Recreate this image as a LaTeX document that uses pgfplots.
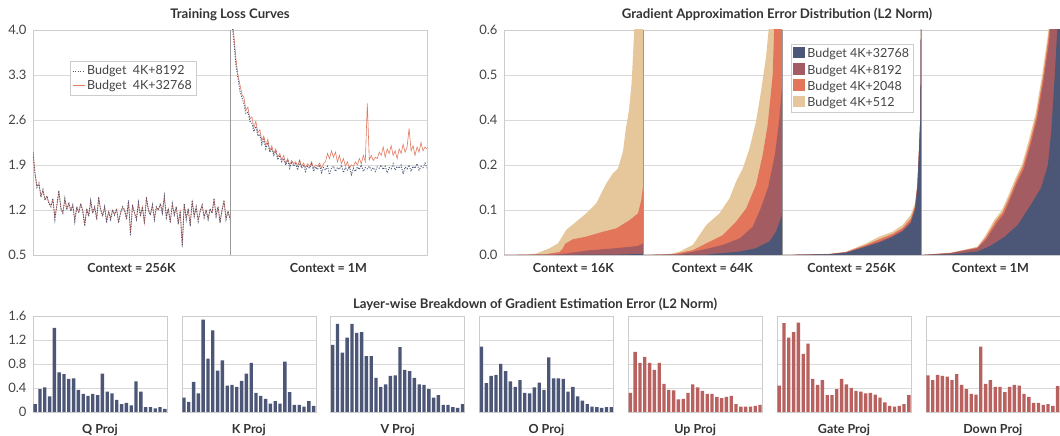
\documentclass[border=0pt]{standalone}
\usepackage{pgfplots}
\pgfplotsset{compat=1.18}
\usepackage{pgfplotstable}
\usepackage{fontspec}
\setmainfont{Lato}

\definecolor{navy}{HTML}{4C5677}
\definecolor{mauve}{HTML}{A35D62}
\definecolor{orng}{HTML}{E2755A}
\definecolor{tanc}{HTML}{E6C79B}
\definecolor{redbar}{HTML}{B8615F}
\definecolor{lossor}{HTML}{E27A60}
\definecolor{gridc}{HTML}{D9D9D9}
\definecolor{framec}{HTML}{CCCCCC}
\definecolor{sepc}{HTML}{9A9A9A}
\definecolor{txtc}{HTML}{333333}
\definecolor{tickc}{HTML}{444444}

\pgfplotstableread{
x l8 l32 r8 r32
0 2.10 2.11 4.60 4.70
1 1.75 1.78 4.10 4.20
2 1.55 1.57 3.80 3.90
3 1.62 1.60 3.45 3.55
4 1.40 1.42 3.25 3.30
5 1.52 1.50 3.05 3.15
6 1.35 1.37 2.95 3.00
7 1.42 1.40 2.85 2.95
8 1.30 1.31 2.70 2.75
9 1.25 1.27 2.72 2.80
10 1.38 1.36 2.58 2.62
11 1.05 1.08 2.55 2.65
12 1.28 1.27 2.42 2.48
13 1.50 1.48 2.50 2.58
14 1.22 1.24 2.35 2.40
15 1.15 1.16 2.38 2.45
16 1.38 1.36 2.22 2.28
17 1.20 1.22 2.30 2.35
18 1.32 1.30 2.15 2.20
19 1.18 1.20 2.25 2.30
20 1.28 1.27 2.10 2.12
21 1.02 1.05 2.15 2.20
22 1.25 1.24 2.05 2.08
23 1.15 1.17 2.12 2.15
24 1.30 1.29 1.98 2.02
25 1.18 1.19 2.05 2.08
26 0.95 0.98 1.95 1.98
27 1.22 1.21 2.00 2.05
28 1.10 1.12 1.90 1.92
29 1.35 1.33 1.98 2.00
30 1.15 1.16 1.85 1.90
31 1.25 1.24 1.95 1.97
32 1.05 1.07 1.88 1.92
33 1.40 1.38 1.92 1.95
34 1.20 1.21 1.82 1.88
35 1.10 1.12 1.95 1.98
36 1.25 1.24 1.85 1.88
37 1.00 1.03 1.90 1.93
38 1.18 1.18 1.80 1.86
39 1.05 1.07 1.88 1.92
40 1.20 1.20 1.85 1.88
41 1.12 1.13 1.92 1.95
42 1.22 1.21 1.80 1.85
43 1.00 1.02 1.87 1.90
44 1.15 1.16 1.83 1.88
45 1.25 1.24 1.90 1.93
46 1.20 1.20 1.78 1.85
47 1.05 1.07 1.86 1.92
48 1.35 1.33 1.82 1.95
49 0.80 0.84 1.88 2.08
50 1.28 1.27 1.75 2.00
51 1.15 1.16 1.85 2.12
52 1.05 1.07 1.88 2.02
53 1.32 1.30 1.80 2.10
54 1.10 1.11 1.86 1.95
55 1.25 1.25 1.83 2.05
56 0.98 1.00 1.90 1.92
57 1.40 1.38 1.78 2.00
58 1.20 1.20 1.86 1.88
59 1.12 1.13 1.82 1.95
60 1.28 1.27 1.88 1.85
61 1.05 1.07 1.75 1.90
62 1.25 1.24 1.85 1.88
63 1.20 1.20 1.80 1.95
64 1.30 1.29 1.87 1.90
65 1.15 1.16 1.83 2.00
66 1.42 1.40 1.90 1.92
67 1.08 1.10 1.80 2.05
68 1.22 1.22 1.86 1.95
69 1.00 1.02 1.84 2.86
70 1.30 1.29 1.88 1.98
71 1.12 1.13 1.82 2.05
72 1.25 1.24 1.86 1.97
73 0.98 1.00 1.80 2.02
74 1.18 1.18 1.87 2.00
75 0.62 0.66 1.85 2.10
76 1.30 1.29 1.90 2.05
77 1.05 1.07 1.83 2.18
78 1.22 1.21 1.88 2.02
79 0.95 0.98 1.78 2.15
80 1.35 1.33 1.86 2.08
81 1.10 1.11 1.84 2.20
82 1.25 1.24 1.92 2.05
83 1.02 1.04 1.82 2.12
84 1.18 1.18 1.88 2.00
85 1.28 1.27 1.85 2.15
86 1.08 1.10 1.90 2.08
87 1.20 1.20 1.76 2.22
88 1.05 1.07 1.87 2.10
89 1.22 1.21 1.84 2.18
90 1.15 1.16 1.90 2.47
91 1.38 1.36 1.80 2.12
92 1.10 1.11 1.88 2.20
93 1.25 1.24 1.85 2.05
94 1.00 1.02 1.92 2.18
95 1.20 1.20 1.82 2.10
96 1.35 1.33 1.88 2.25
97 1.05 1.07 1.86 2.12
98 1.18 1.18 1.93 2.18
99 1.05 1.07 1.85 2.15
}\losstable

\pgfplotsset{
  panel/.style={scale only axis, anchor=south west,
    axis line style={draw=framec, line width=0.6pt},
    ymajorgrids, grid style={draw=gridc, line width=0.6pt},
    xtick=\empty, major tick length=0pt,
    yticklabel style={font=\fontsize{13}{13}\selectfont, text=tickc, xshift=-3pt},
    clip=true},
  losspanel/.style={panel, width=197pt, height=225pt, xmin=0, xmax=99,
    ymin=0.5, ymax=4.0, ytick={0.5,1.2,1.9,2.6,3.3,4.0}},
  gradpanel/.style={panel, width=139pt, height=225pt, xmin=0, xmax=1,
    ymin=0, ymax=0.6, ytick={0,0.12,0.24,0.36,0.48,0.6}},
  barpanel/.style={panel, width=134pt, height=96pt, xmin=-0.45, xmax=27.45,
    ymin=0, ymax=1.6, ytick={0,0.4,0.8,1.2,1.6}},
  sq/.style={legend image code/.code={\fill[##1] (0pt,-4.5pt) rectangle (12pt,7pt);}},
  ln/.style={legend image code/.code={\draw[##1] (0pt,0pt) -- (12pt,0pt);}},
}

\begin{document}
\begin{tikzpicture}
\useasboundingbox (0pt,0pt) rectangle (1060pt,436pt);

% ---------------- Training loss ----------------
\begin{axis}[losspanel, at={(33pt,181pt)},
  yticklabels={0.5,1.2,1.9,2.6,3.3,4.0},
  legend style={at={(0.188,0.86)}, anchor=north west, draw=framec, fill=white,
    font=\fontsize{12.5}{14}\selectfont, text=tickc, inner sep=2pt, row sep=0pt,
    cells={anchor=west}},
  reverse legend]
\addplot[lossor, line width=0.6pt, ln] table[x=x, y=l32] {\losstable};
\addlegendentry{Budget\ \ 4K+32768}
\addplot[navy, line width=0.9pt, dash pattern=on 1.1pt off 1.4pt, ln] table[x=x, y=l8] {\losstable};
\addlegendentry{Budget\ \ 4K+8192}
\end{axis}
\begin{axis}[losspanel, at={(230pt,181pt)}, yticklabels=\empty]
\addplot[lossor, line width=0.6pt] table[x=x, y=r32] {\losstable};
\addplot[navy, line width=0.9pt, dash pattern=on 1.1pt off 1.4pt] table[x=x, y=r8] {\losstable};
\end{axis}
\draw[sepc, line width=0.9pt] (230pt,181pt) -- (230pt,406pt);

% ---------------- Gradient error distribution ----------------
% 16K
\begin{axis}[gradpanel, at={(504pt,181pt)}, yticklabels={0.0,0.1,0.2,0.4,0.5,0.6}]
\addplot[fill=tanc, draw=none] coordinates {(0,0) (0.15,0.001) (0.233,0.004) (0.329,0.018) (0.388,0.031) (0.42,0.05) (0.448,0.067) (0.52,0.089) (0.592,0.111) (0.664,0.138) (0.736,0.191) (0.784,0.218) (0.82,0.231) (0.856,0.276) (0.875,0.333) (0.899,0.387) (0.918,0.458) (0.93,0.547) (0.94,0.62) (1,0.7)} \closedcycle;
\addplot[fill=orng, draw=none] coordinates {(0,0) (0.3,0.002) (0.4,0.008) (0.424,0.018) (0.44,0.03) (0.496,0.042) (0.592,0.049) (0.712,0.062) (0.808,0.071) (0.904,0.093) (0.964,0.111) (0.988,0.147) (1,0.182)} \closedcycle;
\addplot[fill=mauve, draw=none] coordinates {(0,0) (0.35,0.001) (0.45,0.004) (0.6,0.012) (0.8,0.018) (0.964,0.024) (1,0.031)} \closedcycle;
\addplot[fill=navy, draw=none] coordinates {(0,0) (0.8,0.001) (1,0.003)} \closedcycle;
\end{axis}
% 64K
\begin{axis}[gradpanel, at={(643pt,181pt)}, yticklabels=\empty]
\addplot[fill=tanc, draw=none] coordinates {(0,0) (0.2,0.003) (0.263,0.009) (0.359,0.027) (0.455,0.08) (0.55,0.111) (0.622,0.151) (0.67,0.196) (0.718,0.231) (0.766,0.284) (0.813,0.356) (0.849,0.436) (0.885,0.529) (0.909,0.62) (1,0.8)} \closedcycle;
\addplot[fill=orng, draw=none] coordinates {(0,0) (0.215,0.002) (0.359,0.013) (0.455,0.031) (0.574,0.053) (0.67,0.089) (0.742,0.124) (0.813,0.187) (0.861,0.267) (0.897,0.347) (0.933,0.48) (0.945,0.62) (1,0.8)} \closedcycle;
\addplot[fill=mauve, draw=none] coordinates {(0,0) (0.263,0.002) (0.455,0.016) (0.574,0.027) (0.694,0.044) (0.789,0.075) (0.842,0.12) (0.9,0.18) (0.95,0.27) (0.98,0.36) (1,0.45)} \closedcycle;
\addplot[fill=navy, draw=none] coordinates {(0,0) (0.45,0.001) (0.694,0.009) (0.813,0.018) (0.909,0.036) (0.957,0.062) (1,0.107)} \closedcycle;
\end{axis}
% 256K
\begin{axis}[gradpanel, at={(782pt,181pt)}, yticklabels=\empty,
  legend style={at={(0.063,0.938)}, anchor=north west, draw=framec, fill=white,
    font=\fontsize{12.5}{14}\selectfont, text=tickc, inner sep=2.5pt, row sep=1.5pt,
    cells={anchor=west}},
  reverse legend]
\addplot[fill=tanc, draw=none, sq] coordinates {(0,0) (0.343,0.003) (0.462,0.009) (0.605,0.031) (0.7,0.049) (0.795,0.062) (0.867,0.08) (0.926,0.107) (0.957,0.138) (0.974,0.191) (0.986,0.28) (0.995,0.37) (1,0.7)} \closedcycle;
\addlegendentry{Budget 4K+512}
\addplot[fill=orng, draw=none, sq] coordinates {(0,0) (0.343,0.0027) (0.462,0.008) (0.605,0.027) (0.7,0.042) (0.795,0.056) (0.867,0.072) (0.926,0.097) (0.957,0.13) (0.974,0.186) (0.986,0.28) (0.995,0.368) (1,0.7)} \closedcycle;
\addlegendentry{Budget 4K+2048}
\addplot[fill=mauve, draw=none, sq] coordinates {(0,0) (0.343,0.0023) (0.462,0.007) (0.605,0.024) (0.7,0.036) (0.795,0.051) (0.867,0.066) (0.926,0.089) (0.957,0.125) (0.974,0.185) (0.986,0.285) (0.995,0.365) (1,0.7)} \closedcycle;
\addlegendentry{Budget 4K+8192}
\addplot[fill=navy, draw=none, sq] coordinates {(0,0) (0.343,0.002) (0.462,0.006) (0.605,0.022) (0.7,0.033) (0.795,0.048) (0.867,0.063) (0.926,0.085) (0.957,0.12) (0.974,0.18) (0.986,0.28) (0.995,0.36) (1,0.7)} \closedcycle;
\addlegendentry{Budget 4K+32768}
\end{axis}
% 1M
\begin{axis}[gradpanel, at={(921pt,181pt)}, yticklabels=\empty]
\addplot[fill=tanc, draw=none] coordinates {(0,0) (0.213,0.006) (0.406,0.022) (0.46,0.05) (0.53,0.095) (0.58,0.118) (0.63,0.16) (0.68,0.205) (0.728,0.243) (0.775,0.305) (0.825,0.378) (0.872,0.482) (0.91,0.58) (0.922,0.62) (1,0.8)} \closedcycle;
\addplot[fill=orng, draw=none] coordinates {(0,0) (0.213,0.0055) (0.406,0.02) (0.465,0.046) (0.537,0.09) (0.586,0.113) (0.636,0.154) (0.685,0.198) (0.733,0.236) (0.781,0.298) (0.83,0.37) (0.878,0.475) (0.915,0.575) (0.928,0.62) (1,0.8)} \closedcycle;
\addplot[fill=mauve, draw=none] coordinates {(0,0) (0.213,0.005) (0.406,0.018) (0.47,0.042) (0.545,0.085) (0.593,0.107) (0.641,0.148) (0.69,0.192) (0.738,0.228) (0.786,0.29) (0.835,0.362) (0.883,0.468) (0.92,0.565) (0.933,0.62) (1,0.8)} \closedcycle;
\addplot[fill=navy, draw=none] coordinates {(0,0) (0.213,0.002) (0.406,0.009) (0.502,0.025) (0.599,0.048) (0.696,0.08) (0.792,0.135) (0.865,0.18) (0.913,0.24) (0.937,0.33) (0.961,0.47) (0.983,0.62) (1,0.8)} \closedcycle;
\end{axis}
\draw[sepc, line width=0.9pt] (643pt,181pt) -- (643pt,406pt);
\draw[sepc, line width=0.9pt] (782pt,181pt) -- (782pt,406pt);
\draw[sepc, line width=0.9pt] (921pt,181pt) -- (921pt,406pt);

% ---------------- Layer-wise bars ----------------
\begin{axis}[barpanel, at={(33pt,24pt)}, yticklabels={0,0.4,0.8,1.2,1.6}]
\addplot[ybar, bar width=0.7, fill=navy, draw=none] coordinates {(0,0.13) (1,0.38) (2,0.41) (3,0.26) (4,1.40) (5,0.66) (6,0.63) (7,0.55) (8,0.56) (9,0.37) (10,0.30) (11,0.27) (12,0.30) (13,0.28) (14,0.64) (15,0.34) (16,0.31) (17,0.20) (18,0.13) (19,0.15) (20,0.11) (21,0.51) (22,0.34) (23,0.08) (24,0.08) (25,0.06) (26,0.08) (27,0.05)};
\end{axis}
\begin{axis}[barpanel, at={(181.8pt,24pt)}, yticklabels=\empty]
\addplot[ybar, bar width=0.7, fill=navy, draw=none] coordinates {(0,0.24) (1,0.17) (2,0.50) (3,0.31) (4,1.54) (5,0.89) (6,1.36) (7,0.69) (8,0.86) (9,0.44) (10,0.45) (11,0.42) (12,0.52) (13,0.64) (14,0.82) (15,0.32) (16,0.27) (17,0.22) (18,0.14) (19,0.18) (20,0.14) (21,0.84) (22,0.33) (23,0.12) (24,0.12) (25,0.09) (26,0.18) (27,0.10)};
\end{axis}
\begin{axis}[barpanel, at={(330.6pt,24pt)}, yticklabels=\empty]
\addplot[ybar, bar width=0.7, fill=navy, draw=none] coordinates {(0,1.12) (1,1.47) (2,0.99) (3,1.24) (4,1.47) (5,1.32) (6,1.33) (7,0.93) (8,0.93) (9,0.57) (10,0.42) (11,0.46) (12,0.60) (13,0.61) (14,1.08) (15,0.70) (16,0.68) (17,0.57) (18,0.46) (19,0.45) (20,0.38) (21,0.24) (22,0.28) (23,0.12) (24,0.12) (25,0.08) (26,0.07) (27,0.13)};
\end{axis}
\begin{axis}[barpanel, at={(479.4pt,24pt)}, yticklabels=\empty]
\addplot[ybar, bar width=0.7, fill=navy, draw=none] coordinates {(0,1.09) (1,0.48) (2,0.60) (3,0.62) (4,0.80) (5,0.68) (6,0.51) (7,0.42) (8,0.53) (9,0.32) (10,0.31) (11,0.41) (12,0.49) (13,0.37) (14,0.91) (15,0.56) (16,0.56) (17,0.55) (18,0.34) (19,0.42) (20,0.26) (21,0.19) (22,0.13) (23,0.09) (24,0.08) (25,0.07) (26,0.08) (27,0.08)};
\end{axis}
\begin{axis}[barpanel, at={(628.2pt,24pt)}, yticklabels=\empty]
\addplot[ybar, bar width=0.7, fill=redbar, draw=none] coordinates {(0,0.32) (1,1.00) (2,0.82) (3,0.92) (4,0.82) (5,0.70) (6,0.82) (7,0.47) (8,0.37) (9,0.36) (10,0.21) (11,0.22) (12,0.32) (13,0.46) (14,0.41) (15,0.35) (16,0.30) (17,0.30) (18,0.25) (19,0.23) (20,0.25) (21,0.27) (22,0.13) (23,0.09) (24,0.09) (25,0.09) (26,0.10) (27,0.12)};
\end{axis}
\begin{axis}[barpanel, at={(777pt,24pt)}, yticklabels=\empty]
\addplot[ybar, bar width=0.7, fill=redbar, draw=none] coordinates {(0,0.44) (1,1.48) (2,1.24) (3,1.33) (4,1.49) (5,0.97) (6,1.14) (7,0.55) (8,0.45) (9,0.53) (10,0.28) (11,0.28) (12,0.38) (13,0.55) (14,0.46) (15,0.40) (16,0.35) (17,0.34) (18,0.31) (19,0.32) (20,0.29) (21,0.24) (22,0.16) (23,0.10) (24,0.09) (25,0.10) (26,0.13) (27,0.28)};
\end{axis}
\begin{axis}[barpanel, at={(925.8pt,24pt)}, yticklabels=\empty]
\addplot[ybar, bar width=0.7, fill=redbar, draw=none] coordinates {(0,0.61) (1,0.53) (2,0.62) (3,0.60) (4,0.59) (5,0.53) (6,0.63) (7,0.45) (8,0.38) (9,0.30) (10,0.29) (11,1.09) (12,0.47) (13,0.53) (14,0.42) (15,0.42) (16,0.33) (17,0.42) (18,0.45) (19,0.44) (20,0.30) (21,0.25) (22,0.15) (23,0.15) (24,0.12) (25,0.13) (26,0.10) (27,0.43)};
\end{axis}

% ---------------- Texts ----------------
\begin{scope}[every node/.style={text=txtc, anchor=base, inner sep=0pt}]
\node[font=\bfseries\fontsize{13.2}{15}\selectfont] at (230pt,417.5pt) {Training Loss Curves};
\node[font=\bfseries\fontsize{13.2}{15}\selectfont] at (777pt,417.5pt) {Gradient Approximation Error Distribution (L2 Norm)};
\node[font=\bfseries\fontsize{13.2}{15}\selectfont] at (535pt,127pt) {Layer-wise Breakdown of Gradient Estimation Error (L2 Norm)};
\node[font=\bfseries\fontsize{12.5}{14}\selectfont] at (131.5pt,163pt) {Context = 256K};
\node[font=\bfseries\fontsize{12.5}{14}\selectfont] at (328.5pt,163pt) {Context = 1M};
\node[font=\bfseries\fontsize{12.5}{14}\selectfont] at (573.5pt,163pt) {Context = 16K};
\node[font=\bfseries\fontsize{12.5}{14}\selectfont] at (712.5pt,163pt) {Context = 64K};
\node[font=\bfseries\fontsize{12.5}{14}\selectfont] at (851.5pt,163pt) {Context = 256K};
\node[font=\bfseries\fontsize{12.5}{14}\selectfont] at (990.5pt,163pt) {Context = 1M};
\node[font=\bfseries\fontsize{12.5}{14}\selectfont] at (100pt,2pt) {Q Proj};
\node[font=\bfseries\fontsize{12.5}{14}\selectfont] at (248.8pt,2pt) {K Proj};
\node[font=\bfseries\fontsize{12.5}{14}\selectfont] at (397.6pt,2pt) {V Proj};
\node[font=\bfseries\fontsize{12.5}{14}\selectfont] at (546.4pt,2pt) {O Proj};
\node[font=\bfseries\fontsize{12.5}{14}\selectfont] at (695.2pt,2pt) {Up Proj};
\node[font=\bfseries\fontsize{12.5}{14}\selectfont] at (844pt,2pt) {Gate Proj};
\node[font=\bfseries\fontsize{12.5}{14}\selectfont] at (992.8pt,2pt) {Down Proj};
\end{scope}
\end{tikzpicture}
\end{document}
